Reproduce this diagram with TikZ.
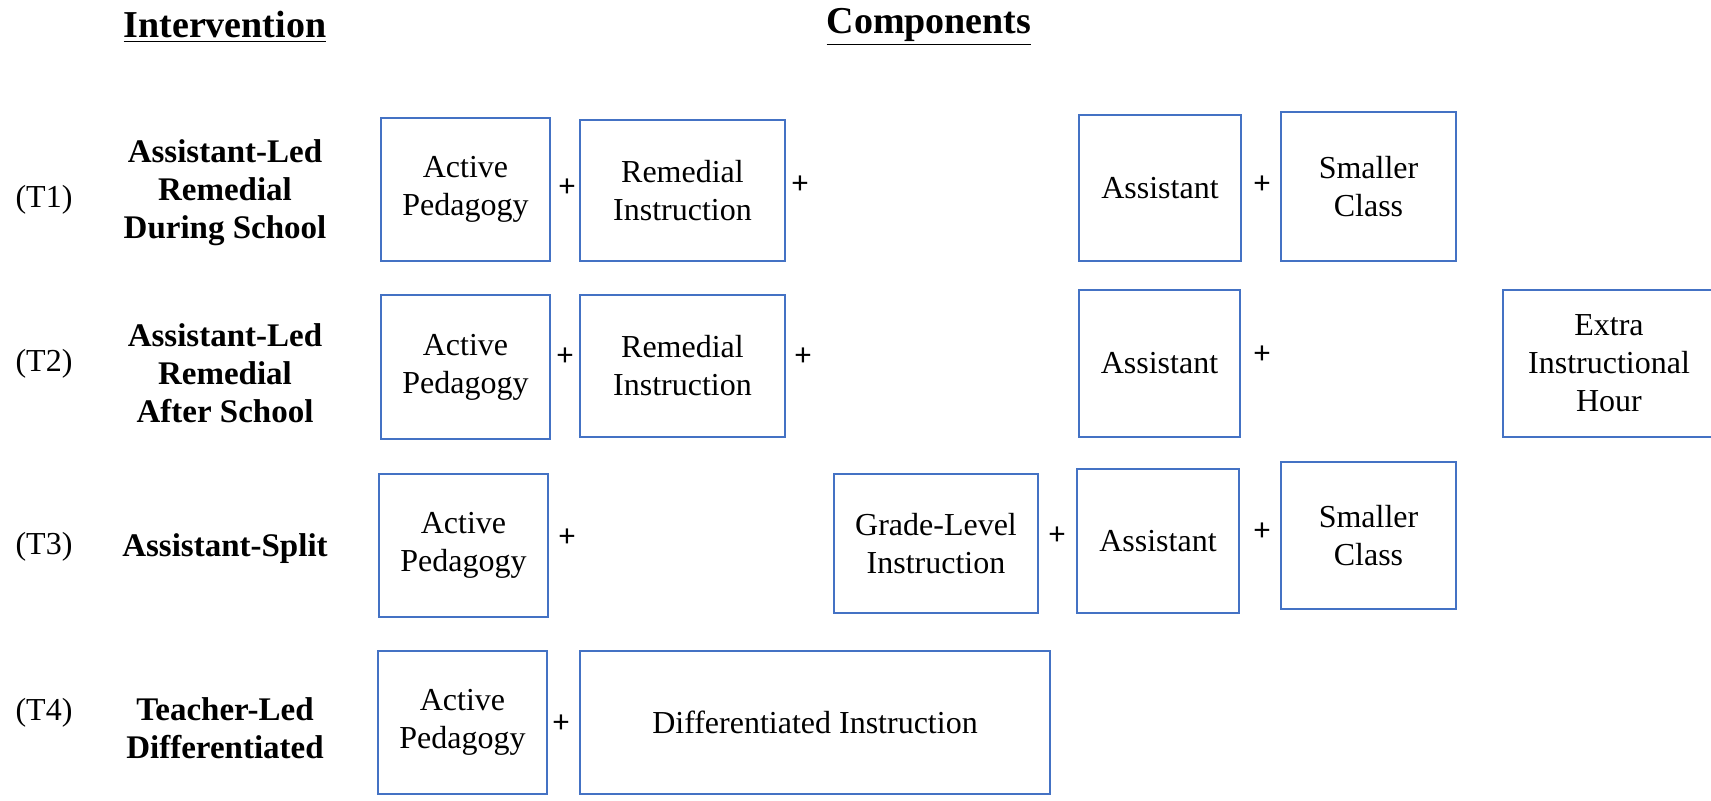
\documentclass[tikz,border=0pt]{standalone}
\usepackage{fontspec}
\setmainfont{Liberation Serif}
\newfontfamily\plusfont{Carlito}
\usepackage{tikz}
\definecolor{boxblue}{HTML}{4472C4}

\begin{document}
\begin{tikzpicture}[x=0.5pt,y=-0.5pt,
	comp/.style={draw=boxblue,line width=0.9pt,align=center,inner sep=0pt,
		font=\fontsize{16}{19}\selectfont},
	wh/.style 2 args={minimum width=#1*0.5pt,minimum height=#2*0.5pt},
	plus/.style={font=\plusfont\fontsize{16}{19}\selectfont,inner sep=0pt},
	tag/.style={font=\fontsize{16}{19}\selectfont},
	arm/.style={align=center,font=\bfseries\fontsize{16.5}{19}\selectfont},
	head/.style={font=\bfseries\fontsize{19}{22}\selectfont}]
	\useasboundingbox (0,0) rectangle (1711,801);
	%
	\node[head] (H1) at (225,27) {\underline{Intervention}};
	\node[head] (H2) at (929,27) {\underline{Components}};
	%
	\node[tag] (T1) at (44,200) {(T1)};
	\node[tag] (T2) at (44,364) {(T2)};
	\node[tag] (T3) at (44,547) {(T3)};
	\node[tag] (T4) at (44,713) {(T4)};
	\node[arm] (N1) at (225,193) {Assistant-Led\\Remedial\\During School};
	\node[arm] (N2) at (225,373) {Assistant-Led\\Remedial\\After School};
	\node[arm] (N3) at (225,549) {Assistant-Split};
	\node[arm] (N4) at (225,728) {Teacher-Led\\Differentiated};
	%
	\node[comp,wh={169}{143}] (A1) at (465.5,189.5) {Active\\Pedagogy};
	\node[comp,wh={205}{141}] (R1) at (682.5,190.5) {Remedial\\Instruction};
	\node[comp,wh={162}{146}] (S1) at (1160,188) {Assistant};
	\node[comp,wh={175}{149}] (C1) at (1368.5,186.5) {Smaller\\Class};
	\node[plus] (p11) at (567,188) {+};
	\node[plus] (p12) at (800,185) {+};
	\node[plus] (p13) at (1262,185) {+};
	%
	\node[comp,wh={169}{144}] (A2) at (465.5,367) {Active\\Pedagogy};
	\node[comp,wh={205}{142}] (R2) at (682.5,366) {Remedial\\Instruction};
	\node[comp,wh={161}{147}] (S2) at (1159.5,363.5) {Assistant};
	\node[comp,wh={212}{147}] (E2) at (1609,363.5) {Extra\\Instructional\\Hour};
	\node[plus] (p21) at (565,357) {+};
	\node[plus] (p22) at (803,357) {+};
	\node[plus] (p23) at (1262,355) {+};
	%
	\node[comp,wh={169}{143}] (A3) at (463.5,545.5) {Active\\Pedagogy};
	\node[comp,wh={204}{139}] (G3) at (936,543.5) {Grade-Level\\Instruction};
	\node[comp,wh={162}{144}] (S3) at (1158,541) {Assistant};
	\node[comp,wh={175}{147}] (C3) at (1368.5,535.5) {Smaller\\Class};
	\node[plus] (p31) at (567,538) {+};
	\node[plus] (p32) at (1057,536) {+};
	\node[plus] (p33) at (1262,532) {+};
	%
	\node[comp,wh={169}{143}] (A4) at (462.5,722.5) {Active\\Pedagogy};
	\node[comp,wh={470}{143}] (D4) at (815,722.5) {Differentiated Instruction};
	\node[plus] (p41) at (561,724) {+};
\end{tikzpicture}
\end{document}
